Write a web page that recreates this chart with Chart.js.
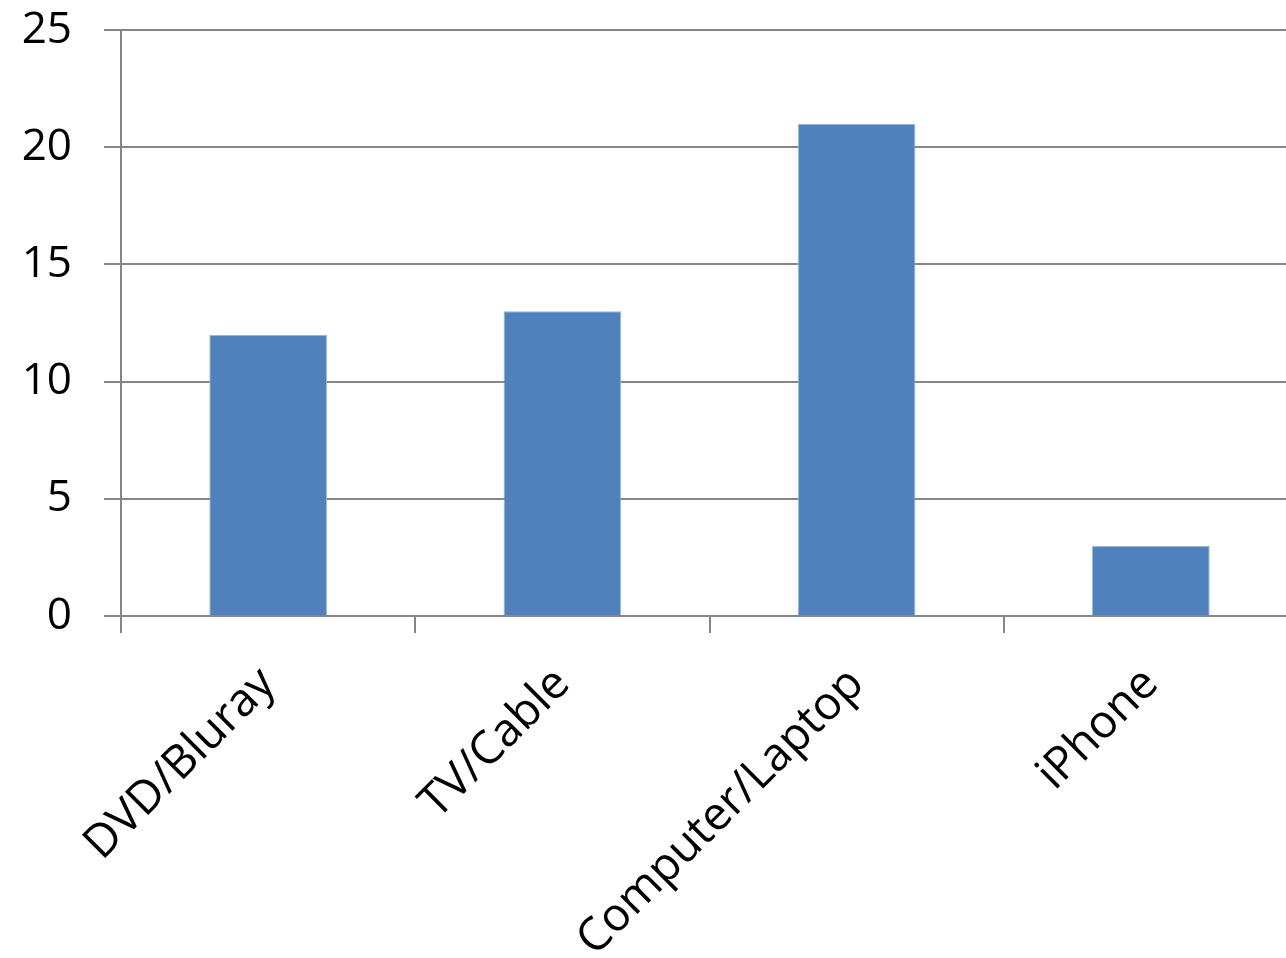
<!DOCTYPE html>
<html>
<head>
<meta charset="utf-8">
<script src="https://cdn.jsdelivr.net/npm/chart.js@4/dist/chart.umd.min.js"></script>
<style>
  html, body { margin: 0; padding: 0; background: #fff; overflow: hidden; }
  #wrap { width: 1286px; height: 958px; overflow: hidden; }
</style>
</head>
<body>
<div id="wrap"><canvas id="myChart" width="1298" height="958"></canvas></div>
<script>
const categories = ['DVD/Bluray', 'TV/Cable', 'Computer/Laptop', 'iPhone']
const counts = [12, 13, 21, 3]
const yTicks = { min: 0, max: 25, step: 5 }

const axisGray = '#868686'
const fontFamily = '"Open Sans", "Noto Sans", sans-serif'

;(function() {
  const ctx = document.getElementById('myChart').getContext('2d')

  new Chart(ctx, {
    type: 'bar',
    data: {
      labels: categories,
      datasets: [{
        data: counts,
        backgroundColor: '#4F81BD',
        borderColor: '#9DB8DA',
        borderWidth: 1,
        categoryPercentage: 0.4,
        barPercentage: 1.0
      }]
    },
    options: {
      responsive: false,
      animation: false,
      layout: { padding: { top: 30, right: 0, left: 0, bottom: 0 } },
      plugins: { legend: { display: false }, tooltip: { enabled: false } },
      scales: {
        x: {
          offset: true,
          grid: {
            offset: true,
            drawOnChartArea: false,
            drawTicks: true,
            tickLength: 17,
            color: axisGray,
            lineWidth: 2
          },
          border: { color: axisGray, width: 2 },
          ticks: {
            color: '#000',
            font: { family: fontFamily, size: 46 },
            minRotation: 45,
            maxRotation: 45,
            padding: 24
          },
          afterFit: (axis) => {
            axis.height = 342
            axis.paddingLeft = 0
            axis.paddingRight = 0
          }
        },
        y: {
          min: yTicks.min,
          max: yTicks.max,
          grid: {
            color: axisGray,
            lineWidth: 2,
            tickLength: 17
          },
          border: { color: axisGray, width: 2 },
          ticks: {
            stepSize: yTicks.step,
            color: '#000',
            font: { family: fontFamily, size: 44 },
            padding: 32
          },
          afterFit: (axis) => {
            axis.width = 121
            axis.paddingTop = 0
            axis.paddingBottom = 0
          }
        }
      }
    }
  })
})();
</script>
</body>
</html>
